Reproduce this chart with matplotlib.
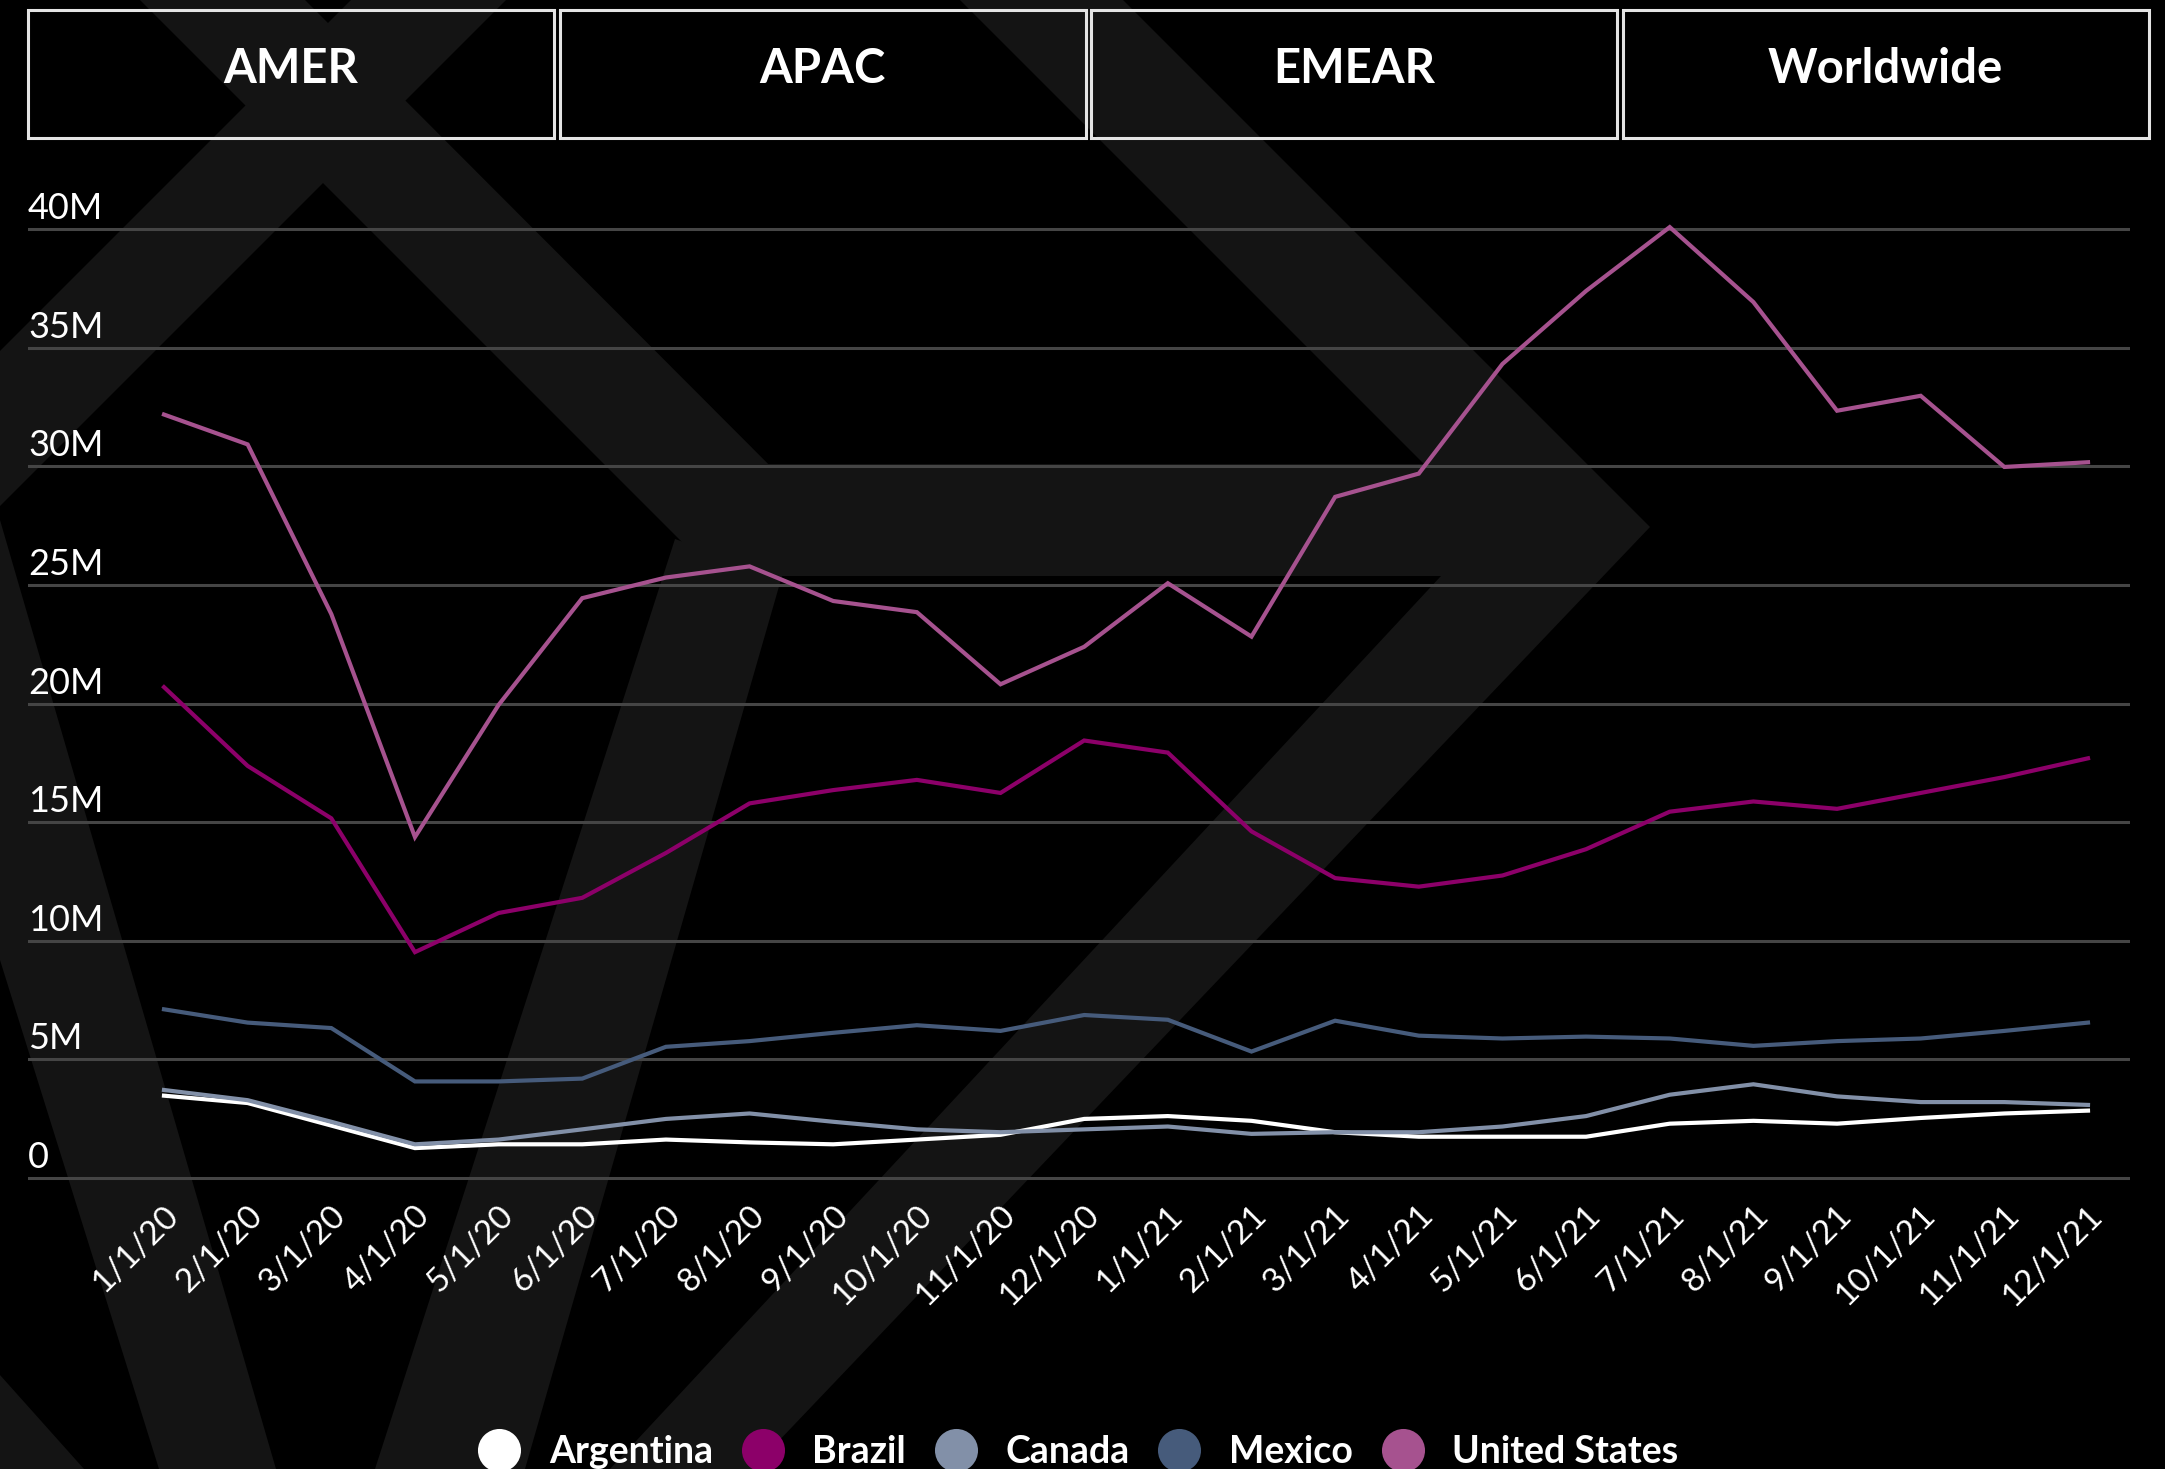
import matplotlib.pyplot as plt
import matplotlib.transforms as mtransforms
from matplotlib.patches import Polygon, Rectangle
from matplotlib.lines import Line2D

# monthly values, in millions
months = ["1/1/20", "2/1/20", "3/1/20", "4/1/20", "5/1/20", "6/1/20",
          "7/1/20", "8/1/20", "9/1/20", "10/1/20", "11/1/20", "12/1/20",
          "1/1/21", "2/1/21", "3/1/21", "4/1/21", "5/1/21", "6/1/21",
          "7/1/21", "8/1/21", "9/1/21", "10/1/21", "11/1/21", "12/1/21"]

argentina = [3.47, 3.16, 2.21, 1.26, 1.42, 1.42, 1.62, 1.50, 1.42, 1.62, 1.82, 2.49,
             2.61, 2.41, 1.93, 1.74, 1.74, 1.74, 2.29, 2.41, 2.29, 2.53, 2.72, 2.84]
brazil = [20.69, 17.37, 15.16, 9.52, 11.17, 11.81, 13.70, 15.79, 16.35, 16.78, 16.23, 18.44,
          17.93, 14.61, 12.64, 12.28, 12.75, 13.86, 15.44, 15.87, 15.56, 16.23, 16.90, 17.69]
canada = [3.71, 3.28, 2.37, 1.42, 1.62, 2.05, 2.49, 2.72, 2.37, 2.05, 1.93, 2.05,
          2.17, 1.86, 1.93, 1.93, 2.17, 2.61, 3.51, 3.95, 3.44, 3.20, 3.20, 3.08]
mexico = [7.11, 6.55, 6.32, 4.07, 4.07, 4.19, 5.53, 5.77, 6.12, 6.44, 6.20, 6.87,
          6.67, 5.33, 6.63, 6.00, 5.88, 5.96, 5.88, 5.57, 5.77, 5.88, 6.20, 6.55]
united_states = [32.18, 30.92, 23.77, 14.37, 19.94, 24.44, 25.31, 25.78, 24.32, 23.85, 20.81, 22.39,
                 25.07, 22.82, 28.71, 29.69, 34.31, 37.39, 40.08, 36.92, 32.34, 32.97, 29.97, 30.17]

countries = ["Argentina", "Brazil", "Canada", "Mexico", "United States"]
colors = ["#ffffff", "#8c0069", "#8290a8", "#465b7b", "#a6528f"]
series = [argentina, brazil, canada, mexico, united_states]

regions = ["AMER", "APAC", "EMEAR", "Worldwide"]
y_ticks = [0, 5, 10, 15, 20, 25, 30, 35, 40]
y_tick_labels = ["0", "5M", "10M", "15M", "20M", "25M", "30M", "35M", "40M"]

FONT = "Lato"
W, H = 2165, 1469
fig = plt.figure(figsize=(W / 100, H / 100), dpi=100, facecolor="black")


def px(x, y):
    # pixel position (origin top-left) -> figure fraction
    return (x / W, 1 - y / H)


# faint chevron artwork behind everything
shapes = [
    [(140, 0), (305, 0), (880, 576), (716, 576)],
    [(351, 0), (506, 0), (0, 506), (0, 351)],
    [(960, 0), (1123, 0), (1650, 527), (752, 1469), (610, 1469), (1441, 576),
     (716, 576), (716, 464), (1424, 464)],
    [(675, 539), (782, 576), (525, 1469), (375, 1469)],
    [(0, 520), (276, 1469), (159, 1469), (0, 960)],
    [(0, 1375), (84, 1469), (0, 1469)],
]
for pts in shapes:
    fig.patches.append(Polygon([px(x, y) for x, y in pts], closed=True,
                               transform=fig.transFigure, facecolor="#141414",
                               edgecolor="none", zorder=-5))

# region selector boxes
box_w, box_step = 526, 531.5
for i, name in enumerate(regions):
    x0 = 28 + i * box_step
    fx, fy = px(x0, 138)
    fig.patches.append(Rectangle((fx, fy), box_w / W, 128 / H, transform=fig.transFigure,
                                 facecolor="none", edgecolor="#e4e4e4", lw=2.2, zorder=2))
    tx, ty = px(x0 + box_w / 2, 69)
    fig.text(tx, ty, name, color="white", fontsize=34, fontweight="bold",
             family=FONT, ha="center", va="center")

# plot area: 0 at y=1178 px, 40M at y=229 px
per_m = (1178 - 229) / 40
ax_top = 229 - 0.5 * per_m
ax_bot = 1178 + 0.5 * per_m
left, bottom = px(28, ax_bot)
ax = fig.add_axes([left, bottom, (2130 - 28) / W, (ax_bot - ax_top) / H])
ax.set_facecolor("none")
for s in ax.spines.values():
    s.set_visible(False)

step = (2088 - 164) / 23
ax.set_xlim(-(164 - 28) / step, 23 + (2130 - 2088) / step)
ax.set_ylim(-0.5, 40.5)

ax.set_yticks(y_ticks)
ax.yaxis.grid(True, color="#454545", lw=2.2)
ax.tick_params(axis="y", length=0, labelleft=False)

ylab_tf = ax.get_yaxis_transform() + mtransforms.ScaledTranslation(0, 0.10, fig.dpi_scale_trans)
for v, lab in zip(y_ticks, y_tick_labels):
    ax.text(0, v, lab, transform=ylab_tf, color="white", fontsize=26,
            fontweight="normal", family=FONT, ha="left", va="baseline")

x = list(range(len(months)))
ax.set_xticks(x)
ax.set_xticklabels(months, rotation=45, ha="right", va="center", rotation_mode="anchor",
                   color="white", fontsize=24, fontweight="normal", family=FONT)
ax.tick_params(axis="x", length=0, pad=15)
shift = mtransforms.ScaledTranslation(0.10, 0, fig.dpi_scale_trans)
for lab in ax.get_xticklabels():
    lab.set_transform(lab.get_transform() + shift)

for name, vals, c in zip(countries, series, colors):
    ax.plot(x, vals, color=c, lw=3.0, clip_on=False, zorder=3, solid_joinstyle="miter")

handles = [Line2D([], [], marker="o", linestyle="", markersize=31,
                  markerfacecolor=c, markeredgecolor="none") for c in colors]
fig.legend(handles, countries, loc="center", bbox_to_anchor=px(1078, 1452), ncol=5,
           frameon=False, handlelength=1.15, handletextpad=0.75, columnspacing=0.75,
           labelcolor="white", prop={"family": FONT, "weight": "bold", "size": 27})

fig.savefig("out.png", dpi=100, facecolor="black")
